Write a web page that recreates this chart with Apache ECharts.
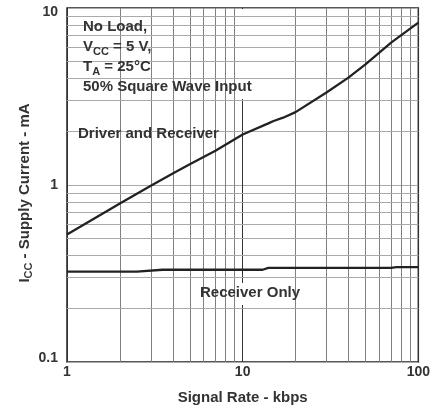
<!DOCTYPE html>
<html><head><meta charset="utf-8">
<script src="https://cdn.jsdelivr.net/npm/echarts@6/dist/echarts.min.js"></script>
<style>html,body{margin:0;padding:0;background:#fff}#c{width:433px;height:412px}</style>
</head><body><div id="c"></div>
<script>
// Signal rate (kbps) and supply current (mA)
const rateDR = [1, 2, 3, 4, 5, 7, 10, 14, 15, 17, 20, 30, 40, 50, 70, 100];
const currentDR = [0.526, 0.787, 0.99, 1.16, 1.31, 1.56, 1.93, 2.23, 2.3, 2.4, 2.58, 3.33, 4.04, 4.8, 6.37, 8.26];
const rateRO = [1, 2.5, 3.5, 13, 14, 70, 75, 100];
const currentRO = [0.324, 0.324, 0.332, 0.332, 0.340, 0.340, 0.344, 0.344];
// minor log grid values
const xMinor = [2, 3, 4, 5, 6, 7, 8, 9, 20, 30, 40, 50, 60, 70, 80, 90];
const yMinor = [0.2, 0.3, 0.4, 0.5, 0.6, 0.7, 0.8, 0.9, 2, 3, 4, 5, 6, 7, 8, 9];

const FONT = 'Liberation Sans, Arial, sans-serif';
const TXT = '#333';
const chart = echarts.init(document.getElementById('c'));
const zip = (a, b) => a.map((v, i) => [v, b[i]]);

chart.setOption({
  animation: false,
  grid: {left: 67, right: 11, top: 8, bottom: 50, show: true, borderColor: '#222', borderWidth: 1.5},
  xAxis: {
    type: 'log', logBase: 10, min: 1, max: 100,
    axisLine: {show: false}, axisTick: {show: false},
    axisLabel: {color: TXT, fontFamily: FONT, fontWeight: 'bold', fontSize: 14, margin: 3,
      formatter: v => String(v)},
    splitLine: {show: true, lineStyle: {color: '#333', width: 1}},
    name: 'Signal Rate - kbps', nameLocation: 'middle', nameGap: 28, nameMoveOverlap: false,
    nameTextStyle: {color: TXT, fontFamily: FONT, fontWeight: 'bold', fontSize: 15}
  },
  yAxis: {
    type: 'log', logBase: 10, min: 0.1, max: 10,
    axisLine: {show: false}, axisTick: {show: false},
    axisLabel: {color: TXT, fontFamily: FONT, fontWeight: 'bold', fontSize: 14, margin: 9,
      formatter: v => {
        const s = String(+v.toPrecision(3));
        if (+v >= 9.99) return '{top|' + s + '}';
        if (+v <= 0.101) return '{bot|' + s + '}';
        return s;
      },
      rich: {top: {padding: [9, 0, 0, 0]}, bot: {padding: [0, 0, 8, 0]}}
    },
    splitLine: {show: true, lineStyle: {color: '#aaa', width: 1}},
    name: 'I{sub|CC} - Supply Current - mA', nameLocation: 'middle', nameGap: 33, nameRotate: 90, nameMoveOverlap: false,
    nameTextStyle: {color: TXT, fontFamily: FONT, fontWeight: 'bold', fontSize: 15, padding: [0, 16, 0, 0],
      rich: {sub: {color: TXT, fontFamily: FONT, fontWeight: 'bold', fontSize: 11, verticalAlign: 'bottom', padding: [7, 0, 0, 0]}}}
  },
  series: [
    {
      type: 'line', data: [], z: 1, silent: true,
      markLine: {
        silent: true, symbol: 'none', label: {show: false}, animation: false,
        data: xMinor.map(v => ({xAxis: v, lineStyle: {color: '#808080', width: 1, type: 'solid'}}))
          .concat(yMinor.map(v => ({yAxis: v, lineStyle: {color: '#aaa', width: 1, type: 'solid'}})))
      }
    },
    {name: 'Driver and Receiver', type: 'line', data: zip(rateDR, currentDR), showSymbol: false, z: 10,
      lineStyle: {color: '#222', width: 2.3}},
    {name: 'Receiver Only', type: 'line', data: zip(rateRO, currentRO), showSymbol: false, z: 10,
      lineStyle: {color: '#222', width: 2.3}}
  ],
  graphic: [
    {type: 'rect', z: 5, shape: {x: 75, y: 9, width: 195, height: 90}, style: {fill: '#fff'}},
    {type: 'text', z: 6, left: 83, top: 17, style: {
      text: 'No Load,\nV{sub|CC} = 5 V,\nT{sub|A} = 25°C\n50% Square Wave Input',
      fill: TXT, font: 'bold 15px ' + FONT, lineHeight: 20,
      rich: {sub: {fill: TXT, font: 'bold 11px ' + FONT, verticalAlign: 'bottom', lineHeight: 12}}
    }},
    {type: 'rect', z: 5, shape: {x: 75, y: 124, width: 149, height: 21}, style: {fill: '#fff'}},
    {type: 'text', z: 6, left: 78, top: 126, style: {text: 'Driver and Receiver', fill: TXT, font: 'bold 15px ' + FONT}},
    {type: 'rect', z: 5, shape: {x: 185, y: 283, width: 119, height: 22}, style: {fill: '#fff'}},
    {type: 'text', z: 6, left: 200, top: 285, style: {text: 'Receiver Only', fill: TXT, font: 'bold 15px ' + FONT}}
  ]
});
</script></body></html>
